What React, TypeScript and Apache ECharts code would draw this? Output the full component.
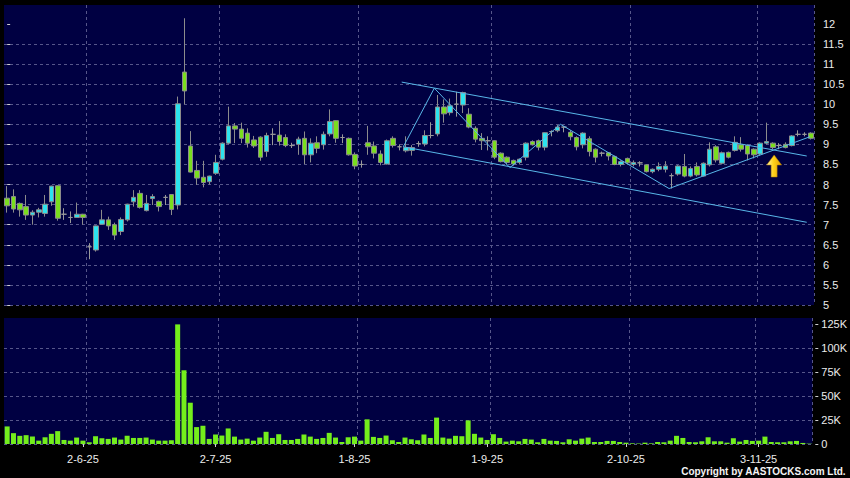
import React, { useEffect, useRef } from "react";
import * as echarts from "echarts";

// ---- calendar (HK trading sessions) ----
const firstSession = "2025-05-15";
const marketHolidays = ["2025-07-01", "2025-10-01", "2025-10-07"];
const sessionCount = 128;

function buildTradingDates(): string[] {
  const out: string[] = [];
  const d = new Date(firstSession + "T00:00:00Z");
  while (out.length < sessionCount) {
    const iso = d.toISOString().slice(0, 10);
    const wd = d.getUTCDay();
    if (wd !== 0 && wd !== 6 && !marketHolidays.includes(iso)) {
      out.push(`${d.getUTCDate()}-${d.getUTCMonth() + 1}-${String(d.getUTCFullYear()).slice(2)}`);
    }
    d.setUTCDate(d.getUTCDate() + 1);
  }
  return out;
}
const dates = buildTradingDates();
const labelDates = ["2-6-25", "2-7-25", "1-8-25", "1-9-25", "2-10-25", "3-11-25"];
const gridLineDates = ["3-6-25", "3-7-25", "4-8-25", "2-9-25", "3-10-25", "3-11-25"];

// ---- prices ----
const opens = [
  7.66, 7.70, 7.53, 7.45, 7.24, 7.31, 7.28, 7.57, 7.97, 7.26, 7.18, 7.18, 7.26, 6.45, 6.37, 7.01,
  7.12, 7.00, 6.83, 7.12, 7.57, 7.78, 7.35, 7.65, 7.58, 7.68, 7.75, 7.49, 10.80, 8.96, 8.35, 8.18,
  8.07, 8.28, 8.63, 9.03, 9.46, 9.38, 9.28, 9.11, 9.18, 8.82, 9.25, 9.23, 9.17, 8.97, 9.00, 9.15,
  8.74, 9.04, 8.99, 9.26, 9.59, 9.17, 9.15, 8.75, 8.50, 9.04, 8.96, 8.76, 8.51, 9.15, 8.94, 8.84,
  8.85, 9.02, 9.01, 9.22, 9.26, 9.93, 9.79, 10.00, 9.98, 9.75, 9.40, 9.15, 9.09, 9.09, 8.78, 8.68,
  8.60, 8.55, 8.68, 9.07, 9.09, 8.93, 9.32, 9.34, 9.43, 9.30, 9.17, 8.99, 9.14, 8.88, 8.78, 8.79,
  8.70, 8.50, 8.65, 8.50, 8.54, 8.49, 8.32, 8.38, 8.38, 8.22, 8.26, 8.45, 8.21, 8.45, 8.21, 8.49,
  8.94, 8.53, 8.80, 8.85, 8.99, 8.97, 8.88, 8.76, 9.03, 9.03, 8.97, 9.00, 8.97, 9.25, 9.25, 9.28,
];
const closes = [
  7.47, 7.39, 7.37, 7.24, 7.31, 7.37, 7.51, 7.96, 7.16, 7.26, 7.18, 7.26, 7.18, 6.45, 6.97, 7.12,
  6.97, 6.74, 7.13, 7.51, 7.68, 7.43, 7.53, 7.70, 7.45, 7.68, 7.38, 10.01, 10.33, 8.31, 8.16, 8.05,
  8.21, 8.55, 9.03, 9.46, 9.38, 9.15, 9.03, 8.96, 8.68, 9.22, 9.25, 9.07, 8.97, 8.97, 9.13, 8.74,
  9.03, 8.90, 9.25, 9.57, 9.15, 9.17, 8.74, 8.46, 8.50, 8.94, 8.78, 8.55, 9.09, 8.97, 8.94, 8.92,
  8.92, 9.02, 9.22, 9.22, 9.93, 9.76, 9.96, 10.00, 10.29, 9.43, 9.13, 9.09, 9.09, 8.68, 8.57, 8.55,
  8.51, 8.63, 9.03, 8.99, 8.93, 9.29, 9.32, 9.43, 9.43, 9.19, 8.94, 9.28, 8.82, 8.68, 8.78, 8.71,
  8.50, 8.57, 8.54, 8.55, 8.54, 8.32, 8.38, 8.45, 8.46, 8.22, 8.46, 8.21, 8.40, 8.24, 8.53, 8.88,
  8.61, 8.79, 8.68, 9.05, 8.88, 8.76, 8.74, 9.03, 9.07, 8.92, 8.97, 8.92, 9.21, 9.25, 9.25, 9.15,
];
const lows = [
  7.30, 7.30, 7.20, 7.12, 7.00, 7.18, 7.20, 7.47, 7.10, 7.12, 7.04, 7.18, 7.00, 6.14, 6.33, 7.00,
  6.87, 6.62, 6.74, 7.08, 7.45, 7.40, 7.33, 7.49, 7.33, 7.49, 7.24, 7.38, 10.00, 8.30, 7.99, 7.93,
  8.00, 8.24, 8.60, 9.00, 9.03, 9.03, 8.92, 8.91, 8.59, 8.69, 8.98, 8.97, 8.93, 8.91, 8.74, 8.51,
  8.55, 8.78, 8.87, 9.20, 9.04, 9.03, 8.72, 8.38, 8.42, 8.74, 8.65, 8.48, 8.50, 8.92, 8.85, 8.80,
  8.72, 8.94, 8.95, 9.15, 9.20, 9.54, 9.72, 9.69, 9.78, 9.40, 9.05, 8.86, 8.85, 8.63, 8.55, 8.50,
  8.47, 8.50, 8.60, 8.97, 8.85, 8.85, 9.20, 9.30, 9.30, 9.10, 8.85, 8.90, 8.70, 8.55, 8.70, 8.60,
  8.48, 8.45, 8.50, 8.45, 8.45, 8.30, 8.28, 8.33, 8.30, 7.90, 8.22, 8.18, 8.18, 8.20, 8.20, 8.45,
  8.55, 8.50, 8.65, 8.82, 8.82, 8.60, 8.65, 8.72, 9.00, 8.88, 8.88, 8.90, 8.95, 9.20, 9.20, 9.12,
];
const highs = [
  7.96, 7.88, 7.55, 7.74, 7.36, 7.42, 7.74, 7.97, 7.98, 7.41, 7.33, 7.55, 7.27, 6.54, 6.98, 7.37,
  7.20, 7.05, 7.18, 7.52, 7.86, 7.86, 7.74, 7.76, 7.60, 7.74, 7.76, 10.19, 12.14, 9.33, 8.59, 8.59,
  8.22, 8.74, 9.05, 9.94, 9.53, 9.54, 9.40, 9.21, 9.20, 9.29, 9.40, 9.58, 9.25, 9.04, 9.19, 9.32,
  9.15, 9.20, 9.32, 9.87, 9.60, 9.25, 9.17, 8.80, 8.60, 9.46, 9.07, 8.85, 9.12, 9.20, 9.00, 9.20,
  8.98, 9.08, 9.35, 9.55, 10.23, 10.12, 10.14, 10.31, 10.31, 9.90, 9.45, 9.28, 9.20, 9.10, 8.80, 8.70,
  8.62, 8.65, 9.05, 9.10, 9.12, 9.30, 9.35, 9.48, 9.45, 9.35, 9.20, 9.30, 9.20, 8.90, 8.82, 8.80,
  8.72, 8.60, 8.67, 8.60, 8.58, 8.50, 8.40, 8.55, 8.58, 8.28, 8.48, 8.76, 8.45, 8.55, 8.55, 9.05,
  8.98, 8.82, 8.82, 9.20, 9.18, 9.00, 8.90, 9.05, 9.54, 9.05, 9.03, 9.05, 9.23, 9.35, 9.30, 9.30,
];

// ---- volume (thousands of shares) ----
const volumesK = [
  18.3, 11.3, 8.5, 9.2, 7.7, 3.5, 7.0, 10.6, 13.4, 4.2, 3.5, 6.7, 3.5, 1.8, 8.1, 6.0,
  5.3, 6.7, 4.6, 8.5, 6.3, 6.3, 6.7, 4.6, 3.5, 3.5, 3.9, 124.6, 76.8, 43.0, 17.6, 19.0,
  5.3, 9.9, 8.8, 16.2, 7.7, 4.6, 5.6, 3.5, 6.7, 12.7, 6.3, 10.2, 4.2, 4.2, 5.3, 9.9,
  7.7, 5.3, 6.3, 11.6, 6.7, 2.1, 7.0, 7.7, 3.5, 25.7, 7.4, 6.3, 8.8, 3.9, 2.1, 6.7,
  4.9, 3.9, 9.9, 6.3, 27.5, 6.7, 5.6, 8.5, 8.1, 24.6, 10.6, 6.7, 4.2, 10.2, 6.3, 2.5,
  3.5, 2.8, 5.3, 4.6, 1.8, 5.3, 3.5, 3.2, 1.8, 4.9, 3.5, 5.6, 6.7, 2.1, 2.1, 3.2,
  3.2, 2.1, 1.4, 0.7, 0.5, 1.4, 0.7, 2.1, 1.8, 3.5, 8.5, 6.3, 2.1, 1.8, 2.8, 7.0,
  2.8, 2.8, 1.4, 6.0, 2.5, 4.2, 3.2, 3.5, 7.7, 2.1, 1.8, 1.8, 2.8, 3.2, 1.1, 0.4,
];

// ---- drawn trend lines: [session index, price] ----
const channelUpper = [[62.35, 10.55], [126.35, 8.71]];
const channelLower = [[62.6, 8.94], [126.35, 7.06]];
const zigzag = [[62.6, 8.94], [67.5, 10.4], [79.45, 8.42], [87.44, 9.5], [104.6, 7.9], [126.87, 9.19]];
const arrowAt = [121.2, 8.46];

const priceTicks = [5, 5.5, 6, 6.5, 7, 7.5, 8, 8.5, 9, 9.5, 10, 10.5, 11, 11.5, 12];

export default function App() {
  const ref = useRef<HTMLDivElement>(null);
  useEffect(() => {
    document.body.style.background = "#000";
    const chart = echarts.init(ref.current!, undefined, { renderer: "svg" });
    const grid = { color: "#56568a", type: [3, 3] as any, width: 1 };
    const labelColor = "#ececec";
    const font = "Liberation Sans";
    const lineColor = "#58b6e8";
    chart.setOption({
      animation: false,
      backgroundColor: "#000",
      grid: [
        { left: 4, top: 5, width: 810, height: 300, show: true, backgroundColor: "#000042", borderWidth: 0 },
        { left: 4, top: 318, width: 810, height: 126, show: true, backgroundColor: "#000042", borderWidth: 0 },
      ],
      xAxis: [
        {
          type: "category", gridIndex: 0, data: dates, boundaryGap: true,
          axisLine: { show: false }, axisTick: { show: false }, axisLabel: { show: false },
          splitLine: { show: true, lineStyle: grid, interval: (_i: number, v: string) => gridLineDates.includes(v) },
        },
        {
          type: "category", gridIndex: 1, data: dates, boundaryGap: true, offset: 2,
          axisLine: { show: false },
          axisTick: { show: true, alignWithLabel: true, length: 3, lineStyle: { color: "#cfcfcf" },
            interval: (_i: number, v: string) => labelDates.includes(v) },
          axisLabel: { color: labelColor, fontSize: 11, fontFamily: font, margin: 7,
            interval: (_i: number, v: string) => labelDates.includes(v) },
          splitLine: { show: true, lineStyle: grid, interval: (_i: number, v: string) => gridLineDates.includes(v) },
        },
        { type: "value", gridIndex: 0, min: -0.5, max: sessionCount - 0.5, show: false },
      ],
      yAxis: [
        {
          type: "value", gridIndex: 0, position: "right", min: 5, max: 12.47, interval: 0.5, offset: 3,
          axisLine: { show: false },
          axisTick: { show: true, length: 3, lineStyle: { color: "#cfcfcf" }, customValues: priceTicks },
          axisLabel: { color: labelColor, fontSize: 11, fontFamily: font, margin: 6, showMaxLabel: false },
          splitLine: { show: true, lineStyle: grid, showMaxLine: false },
        },
        {
          type: "value", gridIndex: 1, position: "right", min: 0, max: 131.25, interval: 25, offset: 3,
          axisLine: { show: false },
          axisTick: { show: true, length: 3, lineStyle: { color: "#cfcfcf" }, customValues: [0, 25, 50, 75, 100, 125] },
          axisLabel: { color: labelColor, fontSize: 11, fontFamily: font, margin: 6, showMaxLabel: false,
            formatter: (v: number) => (v === 0 ? "0" : `${v}K`) },
          splitLine: { show: true, lineStyle: grid, showMaxLine: false },
        },
      ],
      series: [
        {
          type: "candlestick", xAxisIndex: 0, yAxisIndex: 0, barWidth: 5, z: 2,
          data: dates.map((_, i) => [opens[i], closes[i], lows[i], highs[i]]),
          itemStyle: {
            color: "#2de3ee", color0: "#7ade1e",
            borderColor: "#8c8c8c", borderColor0: "#8c8c8c", borderColorDoji: "#9a9a9a", borderWidth: 1,
          },
        },
        {
          type: "bar", xAxisIndex: 1, yAxisIndex: 1, barWidth: 5, data: volumesK,
          itemStyle: { color: "#74ee1c" },
        },
        {
          type: "line", xAxisIndex: 2, yAxisIndex: 0, data: channelUpper, symbol: "none", silent: true, z: 3,
          lineStyle: { color: lineColor, width: 1 },
        },
        {
          type: "line", xAxisIndex: 2, yAxisIndex: 0, data: channelLower, symbol: "none", silent: true, z: 3,
          lineStyle: { color: lineColor, width: 1 },
        },
        {
          type: "line", xAxisIndex: 2, yAxisIndex: 0, data: zigzag, symbol: "none", silent: true, z: 3,
          lineStyle: { color: lineColor, width: 1 },
          markPoint: {
            silent: true,
            symbol: "path://M7.5,0 L15,10 L10.5,10 L10.5,22 L4.5,22 L4.5,10 L0,10 Z",
            symbolSize: [15, 22],
            label: { show: false },
            itemStyle: {
              color: {
                type: "linear", x: 0, y: 0, x2: 1, y2: 0,
                colorStops: [
                  { offset: 0, color: "#fff4a8" },
                  { offset: 0.45, color: "#ffd21c" },
                  { offset: 1, color: "#e29e00" },
                ],
              },
              borderColor: "#b07800", borderWidth: 0.5,
            },
            data: [{ coord: arrowAt }],
          },
        },
      ],
      graphic: [
        {
          type: "text", right: 4, top: 466,
          style: { text: "Copyright by AASTOCKS.com Ltd.", fill: "#f4f4f4", font: `bold 10px "${font}"` },
        },
      ],
    });
    return () => chart.dispose();
  }, []);
  return (
    <div style={{ position: "absolute", left: 0, top: 0, width: 850, height: 478, background: "#000" }}>
      <div ref={ref} style={{ width: 850, height: 478 }} />
    </div>
  );
}
